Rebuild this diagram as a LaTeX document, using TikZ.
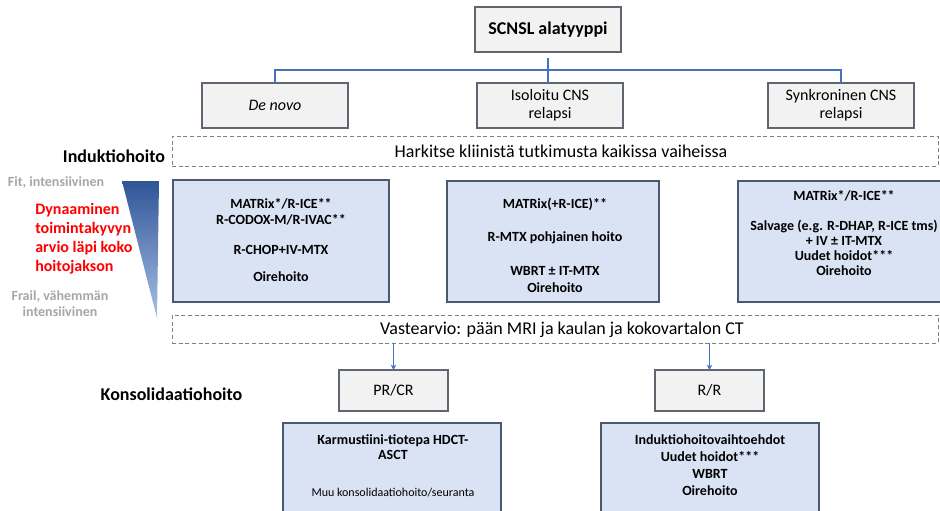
\documentclass[tikz,border=0pt]{standalone}
\usepackage{fontspec}
\setmainfont{Carlito}
\usetikzlibrary{arrows.meta}
\definecolor{grayfill}{HTML}{F2F2F2}
\definecolor{grayline}{HTML}{5F6670}
\definecolor{bluefill}{HTML}{DAE3F3}
\definecolor{blueline}{HTML}{4A5870}
\definecolor{conn}{HTML}{4472C4}
\definecolor{dashc}{HTML}{808080}
\definecolor{lightgraytext}{HTML}{A6A6A6}
\definecolor{tridark}{HTML}{2F5597}
\definecolor{trilight}{HTML}{A9BFE6}
\tikzset{
  graybox/.style={draw=grayline, fill=grayfill, line width=0.9pt, inner sep=0pt, outer sep=0pt,
    minimum width=109.5pt, minimum height=33.75pt, align=center},
  bluebox/.style={draw=blueline, fill=bluefill, line width=0.9pt, inner sep=0pt, outer sep=0pt},
  dashbox/.style={draw=dashc, line width=0.6pt, dash pattern=on 3pt off 2pt, inner sep=0pt, outer sep=0pt,
    minimum width=574.5pt},
  btext/.style={font=\fontsize{10.5}{12}\bfseries\selectfont, align=center, inner sep=0pt},
  conline/.style={draw=conn, line width=1pt},
  arr/.style={draw=conn, line width=0.8pt, -{Stealth[length=4pt,width=4pt]}},
  heading/.style={font=\fontsize{13.5}{16}\bfseries\selectfont, inner sep=0pt},
}
\begin{document}
\begin{tikzpicture}[x=0.75pt,y=-0.75pt]
\useasboundingbox (0,0) rectangle (940,511);
% top level
\node[graybox, font=\fontsize{13.5}{16}\bfseries\selectfont] (top) at (548,29.5) {SCNSL alatyyppi};
\node[graybox, font=\fontsize{12}{13.5}\itshape\selectfont] (denovo) at (275,105.5) {De novo};
\node[graybox, font=\fontsize{12}{13.5}\selectfont] (isol) at (550,105.5) {Isoloitu CNS\\relapsi};
\node[graybox, font=\fontsize{12}{13.5}\selectfont] (synk) at (841,105.5) {Synkroninen CNS\\relapsi};
\coordinate (bus) at (548,70);
\draw[conline] (denovo.north) |- (bus) -| (synk.north);
\draw[conline] ([yshift=-4.5pt]top.south) -- (top.south |- isol.north);
% dashed box 1
\node[dashbox, minimum height=22.5pt] (dash1) at (555,151) {};
\node[inner sep=0pt, font=\fontsize{13.5}{16}\selectfont] (harkitse) at (561,151.5) {Harkitse kliinistä tutkimusta kaikissa vaiheissa};
\node[heading] (induk) at (114,156) {Induktiohoito};
% left side
\node[inner sep=0pt, text=lightgraytext, font=\fontsize{10.5}{12}\bfseries\selectfont] (fit) at (56,183) {Fit, intensiivinen};
\node[inner sep=0pt, text=red, font=\fontsize{12}{14.25}\bfseries\selectfont, align=left, anchor=west] (dyn) at (35,238.5) {Dynaaminen\\toimintakyvyn\\arvio läpi koko\\hoitojakson};
\node[inner sep=0pt, text=lightgraytext, font=\fontsize{10.5}{12}\bfseries\selectfont, align=center] (frail) at (60,304) {Frail, vähemmän\\intensiivinen};
\shade[top color=tridark, bottom color=trilight] (122,181) -- (159,181) -- (157,318) -- cycle;
% induction boxes
\node[bluebox, minimum width=162pt, minimum height=91.5pt] (b1) at (281,241) {};
\node[btext] (t1) at (281,240) {MATRix*/R-ICE**\\R-CODOX-M/R-IVAC**\\[10.5pt]R-CHOP+IV-MTX\\[8.25pt]Oirehoito};
\node[bluebox, minimum width=159pt, minimum height=90.75pt] (b2) at (553,241.5) {};
\node[btext, font=\fontsize{10.5}{12.75}\bfseries\selectfont] (t2) at (555,245.5) {MATRix(+R-ICE)**\\[12pt]R-MTX pohjainen hoito\\[12.75pt]WBRT ± IT-MTX\\Oirehoito};
\node[bluebox, minimum width=166.5pt, minimum height=90.75pt] (b3) at (849,241.5) {};
\node[btext, font=\fontsize{10.5}{11.25}\bfseries\selectfont] (t3) at (844,233) {MATRix*/R-ICE**\\[11.25pt]Salvage (e.g. R-DHAP, R-ICE tms)\\+ IV ± IT-MTX\\Uudet hoidot***\\Oirehoito};
% dashed box 2
\node[dashbox, minimum height=21pt] (dash2) at (555,329) {};
\node[inner sep=0pt, font=\fontsize{13.5}{16}\selectfont] (vaste) at (562,329.5) {Vastearvio: pään MRI ja kaulan ja kokovartalon CT};
% consolidation
\node[graybox, minimum width=81.75pt, minimum height=30.75pt, font=\fontsize{12}{14}\selectfont] (prcr) at (393.5,390.5) {PR/CR};
\node[graybox, minimum width=81.75pt, minimum height=30.75pt, font=\fontsize{12}{14}\selectfont] (rr) at (709.5,390.5) {R/R};
\draw[arr] (dash2.south -| prcr.north) -- (prcr.north);
\draw[arr] (dash2.south -| rr.north) -- (rr.north);
\node[heading] (konsol) at (171.5,394) {Konsolidaatiohoito};
\node[bluebox, minimum width=163.5pt, minimum height=80.25pt] (b4) at (392,476.5) {};
\node[btext, font=\fontsize{10.5}{11.25}\bfseries\selectfont] (t4) at (393,447.5) {Karmustiini-tiotepa HDCT-\\ASCT};
\node[inner sep=0pt, font=\fontsize{9}{11}\selectfont] (t4b) at (393,493) {Muu konsolidaatiohoito/seuranta};
\node[bluebox, minimum width=163.5pt, minimum height=80.25pt] (b5) at (710,476.5) {};
\node[btext, font=\fontsize{10.5}{12.75}\bfseries\selectfont] (t5) at (710,465.5) {Induktiohoitovaihtoehdot\\Uudet hoidot***\\WBRT\\Oirehoito};
\end{tikzpicture}
\end{document}
